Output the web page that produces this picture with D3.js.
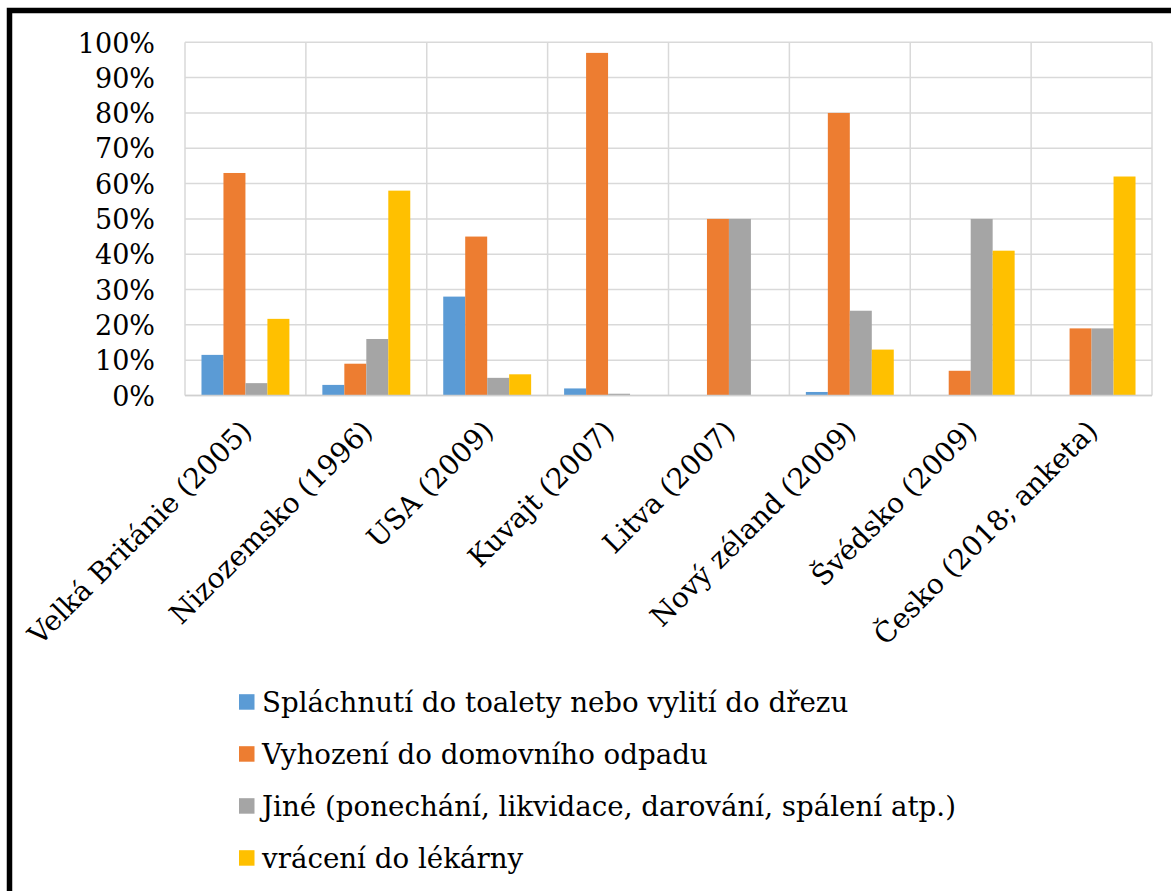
<!DOCTYPE html>
<html>
<head>
<meta charset="utf-8">
<script src="https://cdn.jsdelivr.net/npm/d3@7"></script>
<style>
html,body{margin:0;padding:0;background:#fff;}
svg{display:block;}
</style>
</head>
<body>
<svg id="chart" width="1171" height="891"></svg>
<script>
const categories = ["Velká Británie (2005)", "Nizozemsko (1996)", "USA (2009)", "Kuvajt (2007)", "Litva (2007)", "Nový zéland (2009)", "Švédsko (2009)", "Česko (2018; anketa)"];
const seriesNames = ["Spláchnutí do toalety nebo vylití do dřezu", "Vyhození do domovního odpadu", "Jiné (ponechání, likvidace, darování, spálení atp.)", "vrácení do lékárny"];
const seriesColors = ["#5B9BD5", "#ED7D31", "#A5A5A5", "#FFC000"];
const splachnuti = [11.5, 3, 28, 2, 0, 1, 0, 0];
const vyhozeni = [63, 9, 45, 97, 50, 80, 7, 19];
const jine = [3.5, 16, 5, 0.5, 50, 24, 50, 19];
const vraceni = [21.7, 58, 6, 0, 0, 13, 41, 62];
const yTicks = [0, 10, 20, 30, 40, 50, 60, 70, 80, 90, 100];

const seriesValues = [splachnuti, vyhozeni, jine, vraceni];
const svg = d3.select("#chart");
const serif = "Georgia, 'DejaVu Serif', serif";

// frame
svg.append("rect").attr("x", 9.5).attr("y", 10.5).attr("width", 1300).attr("height", 1000)
  .attr("fill", "none").attr("stroke", "#000").attr("stroke-width", 5.5);

const pLeft = 185, pRight = 1152, pTop = 42.3, pBottom = 395.5;
const x0 = d3.scaleBand().domain(categories).range([pLeft, pRight]).padding(0);
const x1 = d3.scaleBand().domain(d3.range(seriesNames.length)).range([0, x0.bandwidth()]).paddingInner(0).paddingOuter(0.75);
const y = d3.scaleLinear().domain([0, 100]).range([pBottom, pTop]);

const grid = svg.append("g");
grid.selectAll("line.h").data(yTicks).join("line")
  .attr("x1", pLeft).attr("x2", pRight)
  .attr("y1", d => y(d)).attr("y2", d => y(d))
  .attr("stroke", "#d9d9d9").attr("stroke-width", 1.5);
const bounds = categories.map(c => x0(c)).concat([pRight]);
grid.selectAll("line.v").data(bounds).join("line")
  .attr("x1", d => d).attr("x2", d => d)
  .attr("y1", pTop).attr("y2", pBottom)
  .attr("stroke", "#d9d9d9").attr("stroke-width", 1.5);

// bars
const groups = svg.append("g").selectAll("g").data(categories).join("g")
  .attr("transform", d => `translate(${x0(d)},0)`);
groups.selectAll("rect").data((c, i) => seriesValues.map((s, k) => ({k, v: s[i]})))
  .join("rect")
  .attr("x", d => x1(d.k))
  .attr("width", x1.bandwidth())
  .attr("y", d => y(d.v))
  .attr("height", d => pBottom - y(d.v))
  .attr("fill", d => seriesColors[d.k]);

// axis line
svg.append("line").attr("x1", pLeft).attr("x2", pRight).attr("y1", pBottom).attr("y2", pBottom)
  .attr("stroke", "#d0d0d0").attr("stroke-width", 1.5);

// y axis labels
const yAxis = d3.axisLeft(y).tickValues(yTicks).tickFormat(d => d + "%").tickSize(0).tickPadding(0);
const yg = svg.append("g").attr("transform", `translate(155,0)`).call(yAxis);
yg.select(".domain").remove();
yg.selectAll("text").attr("font-family", serif).attr("font-size", 27).attr("fill", "#000").attr("dy", "0.36em");

// x axis labels
const xAxis = d3.axisBottom(x0).tickSize(0).tickPadding(0);
const xg = svg.append("g").attr("transform", `translate(0,${pBottom})`).call(xAxis);
xg.select(".domain").remove();
xg.selectAll(".tick text")
  .attr("font-family", serif)
  .attr("font-size", 28).attr("fill", "#000")
  .attr("text-anchor", "end")
  .attr("y", 0).attr("dy", 0)
  .attr("transform", "translate(8,37) rotate(-45)");

// legend
const lg = svg.append("g").selectAll("g").data(seriesNames).join("g")
  .attr("transform", (d, i) => `translate(239,${701.7 + i * 52})`);
lg.append("rect").attr("x", 0).attr("y", -7.5).attr("width", 15.5).attr("height", 15.5)
  .attr("fill", (d, i) => seriesColors[i]);
lg.append("text").attr("x", 23).attr("y", 0).attr("dy", "0.36em")
  .attr("font-family", serif).attr("font-size", 27.7).attr("fill", "#000")
  .text(d => d);
</script>
</body>
</html>
